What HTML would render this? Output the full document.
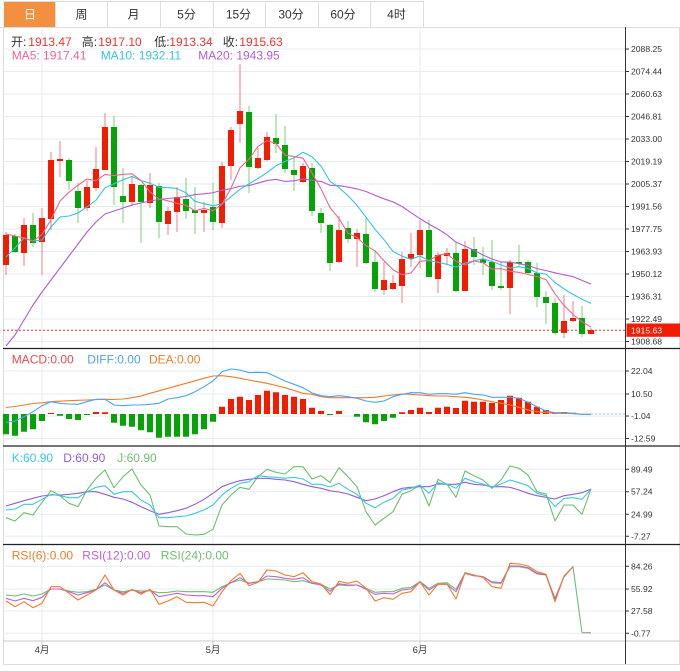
<!DOCTYPE html>
<html><head><meta charset="utf-8"><style>
html,body{margin:0;padding:0;background:#fff;}
svg{display:block;}
text{font-family:"Liberation Sans","Noto Sans CJK SC",sans-serif;}
.ax{font-size:8.6px;fill:#333;}
.lg{font-size:12px;}
</style></head><body>
<svg width="680" height="671" viewBox="0 0 680 671" xmlns="http://www.w3.org/2000/svg">
<rect x="0" y="0" width="680" height="671" fill="#fff"/>
<!-- tabs -->
<rect x="4" y="1" width="51" height="26" fill="#f29040"/>
<path d="M4 1.5H423.5M0 27.5H680M55.5 1V27M107.5 1V27M160.5 1V27M213.5 1V27M265.5 1V27M318.5 1V27M370.5 1V27M423.5 1V27" stroke="#dcdcdc" stroke-width="1" fill="none"/>
<g font-size="12" text-anchor="middle" fill="#333">
<text x="30" y="18.5" fill="#fff">日</text>
<text x="81.5" y="18.5">周</text>
<text x="133.5" y="18.5">月</text>
<text x="186.5" y="18.5">5分</text>
<text x="238.5" y="18.5">15分</text>
<text x="291" y="18.5">30分</text>
<text x="343" y="18.5">60分</text>
<text x="396.5" y="18.5">4时</text>
</g>
<!-- borders -->
<path d="M3.5 27V664.5H680M679.5 27V664.5" stroke="#dcdcdc" fill="none"/>
<!-- gridlines main -->
<g stroke="#e6edf2" stroke-width="1">
<path d="M3 49H625M3 71.5H625M3 94H625M3 116.5H625M3 139H625M3 161.5H625M3 184H625M3 206.5H625M3 229H625M3 251.5H625M3 274H625M3 296.5H625M3 319H625M3 341.5H625"/>
<path d="M3 371H625M3 394H625M3 416H625M3 438.5H625"/>
<path d="M3 469.3H625M3 491.7H625M3 514.3H625M3 536.3H625"/>
<path d="M3 566.3H625M3 589H625M3 611H625M3 633.3H625"/>
<path d="M42 27V641M213 27V641M420 27V641"/>
</g>
<!-- panel separators -->
<path d="M3 348.5H680M3 446H680M3 544.5H680" stroke="#222" stroke-width="1.3"/>
<path d="M3 641H680" stroke="#c8c8c8"/>
<path d="M42 641V645M213 641V645M420 641V645" stroke="#c8c8c8"/>
<!-- axis -->
<path d="M625.5 27V664" stroke="#333"/>
<g stroke="#333">
<path d="M625 49H629M625 71.5H629M625 94H629M625 116.5H629M625 139H629M625 161.5H629M625 184H629M625 206.5H629M625 229H629M625 251.5H629M625 274H629M625 296.5H629M625 319H629M625 341.5H629"/>
<path d="M625 371H629M625 394H629M625 416H629M625 438.5H629M625 469.3H629M625 491.7H629M625 514.3H629M625 536.3H629M625 566.3H629M625 589H629M625 611H629M625 633.3H629"/>
</g>
<g class="ax">
<text x="631" y="52">2088.25</text>
<text x="631" y="74.5">2074.44</text>
<text x="631" y="97">2060.63</text>
<text x="631" y="119.5">2046.81</text>
<text x="631" y="142">2033.00</text>
<text x="631" y="164.5">2019.19</text>
<text x="631" y="187">2005.37</text>
<text x="631" y="209.5">1991.56</text>
<text x="631" y="232">1977.75</text>
<text x="631" y="254.5">1963.93</text>
<text x="631" y="277">1950.12</text>
<text x="631" y="299.5">1936.31</text>
<text x="631" y="322">1922.49</text>
<text x="631" y="344.5">1908.68</text>
<text x="631" y="374">22.04</text>
<text x="631" y="397">10.50</text>
<text x="631" y="419">-1.04</text>
<text x="631" y="441.5">-12.59</text>
<text x="631" y="472.3">89.49</text>
<text x="631" y="494.7">57.24</text>
<text x="631" y="517.3">24.99</text>
<text x="631" y="539.3">-7.27</text>
<text x="631" y="569.3">84.26</text>
<text x="631" y="592">55.92</text>
<text x="631" y="614">27.58</text>
<text x="631" y="636.3">-0.77</text>
</g>
<!-- current price -->
<path d="M3 330.3H625" stroke="#f03030" stroke-dasharray="2,2"/>
<rect x="626.5" y="323.5" width="53.5" height="13.3" fill="#f21c00"/>
<text x="631" y="333.5" class="ax" style="fill:#fff">1915.63</text>
<!-- candles wicks -->
<path fill="none" stroke="#f47e7e" stroke-width="1" d="M6 232V275M24 218V266M42 208V275M51 152V230M60 141V177M87 181V211M96 147V191M105 113V170M132 177V206M150 173V208M168 207V235M177 187V232M204 202V232M222 162V228M231 127V180M240 64V143M258 148V169M267 132V161M303 163V183M339 216V263M357 229V267M384 262V295M393 275V290M402 252V303M411 233V267M420 220V268M438 252V293M447 248V265M465 241V291M510 260V314M564 295V338M573 301V322M591 328V334"/>
<path fill="none" stroke="#7ccf7c" stroke-width="1" d="M15 234V253M33 213V247M69 158V190M78 183V223M114 116V205M123 168V223M141 184V243M159 183V238M186 178V219M195 187V234M213 183V230M249 106V193M276 114V153M285 126V173M294 156V191M312 163V216M321 208V233M330 224V271M348 221V243M366 217V264M375 250V292M429 220V277M456 242V292M474 237V265M483 247V275M492 240V290M501 262V290M519 245V267M528 260V275M537 263V307M546 291V324M555 298V335M582 306V337"/>
<path fill="#f31c00" d="M3 235h6v30h-6zM21 225h6v28h-6zM39 218h6v24h-6zM48 160h6v59h-6zM57 159h6v2h-6zM84 187h6v21h-6zM93 169h6v19h-6zM102 127h6v43h-6zM129 184h6v18h-6zM147 185h6v18h-6zM165 211h6v13h-6zM174 197h6v15h-6zM201 210h6v3h-6zM219 166h6v57h-6zM228 130h6v36h-6zM237 111h6v13h-6zM255 158h6v10h-6zM264 137h6v23h-6zM300 166h6v16h-6zM336 230h6v32h-6zM354 233h6v6h-6zM381 280h6v10h-6zM390 283h6v6h-6zM399 259h6v27h-6zM408 254h6v5h-6zM417 230h6v25h-6zM435 255h6v24h-6zM444 253h6v3h-6zM462 249h6v42h-6zM507 262h6v26h-6zM561 321h6v12h-6zM570 318h6v3h-6zM588 330h6v4h-6z"/>
<path fill="#06a306" d="M12 236h6v16h-6zM30 225h6v18h-6zM66 160h6v21h-6zM75 191h6v17h-6zM111 127h6v60h-6zM120 196h6v6h-6zM138 185h6v17h-6zM156 186h6v36h-6zM183 199h6v12h-6zM192 210h6v3h-6zM210 207h6v15h-6zM246 112h6v55h-6zM273 138h6v6h-6zM282 145h6v24h-6zM291 170h6v5h-6zM309 168h6v43h-6zM318 213h6v10h-6zM327 225h6v38h-6zM345 228h6v11h-6zM363 234h6v29h-6zM372 262h6v27h-6zM426 230h6v47h-6zM453 253h6v38h-6zM471 249h6v8h-6zM480 259h6v4h-6zM489 262h6v24h-6zM498 286h6v2h-6zM516 262h6v1.5h-6zM525 262h6v11h-6zM534 273h6v24h-6zM543 297h6v6h-6zM552 303h6v30h-6zM579 318h6v16h-6z"/>
<!-- MA lines -->
<g fill="none" stroke-width="1.1" stroke-linejoin="round">
<polyline stroke="#b45cd0" points="6,346 15,335 24,320 33,305 42,292 51,280 60,268 69,256 78,244 87,232 96,222 105,214 114,211 123,208 132,205 141,203 150,201 159,199.5 168,198.5 177,197.7 186,196.5 195,194.55 204,193.8 213,192.75 222,190.15 231,188.65 240,186.25 249,185.55 258,183.05 267,180.55 276,179.3 285,181.4 294,180.8 303,179 312,180.35 321,181.4 330,185.3 339,185.7 348,187.1 357,188.9 366,191.5 375,195.3 384,198.8 393,201.85 402,206.5 411,212.7 420,218.65 429,224.15 438,229 447,234.8 456,242.15 465,246.15 474,250.25 483,255.1 492,258.85 501,262.1 510,262.05 519,263.7 528,265.4 537,268.6 546,270.6 555,272.8 564,274.85 573,276.6 582,280.35 591,284.15"/>
<polyline stroke="#35c3e3" points="6,257 15,248 24,238 33,241 42,240 51,227 60,217 69,216 78,213 87,206.8 96,200.2 105,187.7 114,183.9 123,179.8 132,176.4 141,180.6 150,183.2 159,187.3 168,187.6 177,188.6 186,192.8 195,201.4 204,203.7 213,205.7 222,203.9 231,196.7 240,189.3 249,183.8 258,178.5 267,172.5 276,165.8 285,161.4 294,157.9 303,152.3 312,156.8 321,166.1 330,181.3 339,187.6 348,195.7 357,205.3 366,217.2 375,229.2 384,239.7 393,251.4 402,256.2 411,259.3 420,256 429,260.7 438,262.3 447,264.3 456,267.1 465,263.1 474,260.8 483,258.8 492,261.5 501,264.9 510,268.1 519,266.7 528,268.5 537,272.9 546,274.1 555,282.5 564,288.9 573,294.4 582,299.2 591,303.4"/>
<polyline stroke="#f0648f" points="6,234 15,236 24,238 33,241 42,234.6 51,219.6 60,201 69,192.2 78,185.2 87,179 96,180.8 105,174.4 114,175.6 123,174.4 132,173.8 141,180.4 150,192 159,199 168,200.8 177,203.4 186,205.2 195,210.8 204,208.4 213,210.6 222,204.4 231,188.2 240,167.8 249,159.2 258,146.4 267,140.6 276,143.4 285,155 294,156.6 303,158.2 312,173 321,188.8 330,207.6 339,218.6 348,233.2 357,237.6 366,245.6 375,250.8 384,260.8 393,269.6 402,274.8 411,273 420,261.2 429,260.6 438,255 447,253.8 456,261.2 465,265 474,261 483,262.6 492,269.2 501,268.6 510,271.2 519,272.4 528,274.4 537,276.6 546,279.6 555,293.8 564,305.4 573,314.4 582,321.8 591,327.2"/>
</g>
<!-- legends -->
<g class="lg">
<text x="11" y="46" fill="#333">开:</text><text x="28.3" y="46" fill="#f0342c">1913.47</text>
<text x="81.7" y="46" fill="#333">高:</text><text x="98.3" y="46" fill="#f0342c">1917.10</text>
<text x="154.3" y="46" fill="#333">低:</text><text x="169.3" y="46" fill="#f0342c">1913.34</text>
<text x="222.7" y="46" fill="#333">收:</text><text x="239.3" y="46" fill="#f0342c">1915.63</text>
<text x="11.7" y="59.5" fill="#f0648f">MA5: 1917.41</text>
<text x="100.7" y="59.5" fill="#35c3e3">MA10: 1932.11</text>
<text x="198.3" y="59.5" fill="#b45cd0">MA20: 1943.95</text>
<text x="11.7" y="363.5" fill="#f04a4a">MACD:0.00</text>
<text x="87.3" y="363.5" fill="#4da3f0">DIFF:0.00</text>
<text x="149" y="363.5" fill="#f07c28">DEA:0.00</text>
<text x="11.7" y="462" fill="#3cc8e0">K:60.90</text>
<text x="63.3" y="462" fill="#9060d8">D:60.90</text>
<text x="117.3" y="462" fill="#6cc06c">J:60.90</text>
<text x="11.7" y="559.3" fill="#f07c28">RSI(6):0.00</text>
<text x="82.3" y="559.3" fill="#c060d8">RSI(12):0.00</text>
<text x="160.7" y="559.3" fill="#6cc06c">RSI(24):0.00</text>
</g>
<!-- MACD -->
<path d="M591 414H625" stroke="#8cc8f0" stroke-dasharray="2,2"/>
<path fill="#06a306" d="M3 414h6v20.3h-6zM12 414h6v21.7h-6zM21 414h6v17.7h-6zM30 414h6v15.3h-6zM39 414h6v7h-6zM57 414h6v1.7h-6zM66 414h6v5h-6zM75 414h6v6h-6zM84 414h6v1h-6zM111 414h6v8.7h-6zM120 414h6v11.7h-6zM129 414h6v12.7h-6zM138 414h6v16.3h-6zM147 414h6v18.3h-6zM156 414h6v23.7h-6zM165 414h6v22.7h-6zM174 414h6v22.7h-6zM183 414h6v22.7h-6zM192 414h6v20.3h-6zM201 414h6v15.3h-6zM210 414h6v7.7h-6zM327 414h6v1h-6zM354 414h6v2.7h-6zM363 414h6v8.3h-6zM372 414h6v10.3h-6zM381 414h6v7h-6zM390 414h6v3.7h-6z"/>
<path fill="#f31c00" d="M48 413h6v1h-6zM93 412h6v2h-6zM102 412.3h6v1.7h-6zM219 406.7h6v7.3h-6zM228 399h6v15h-6zM237 396.7h6v17.3h-6zM246 400h6v14h-6zM255 395h6v19h-6zM264 390.7h6v23.3h-6zM273 392.3h6v21.7h-6zM282 395h6v19h-6zM291 396.7h6v17.3h-6zM300 399h6v15h-6zM309 407.7h6v6.3h-6zM318 411h6v3h-6zM336 411h6v3h-6zM399 412.3h6v1.7h-6zM408 410h6v4h-6zM417 407.7h6v6.3h-6zM426 412h6v2h-6zM435 407.7h6v6.3h-6zM444 406.7h6v7.3h-6zM453 408h6v6h-6zM462 400.7h6v13.3h-6zM471 401.7h6v12.3h-6zM480 401.7h6v12.3h-6zM489 403h6v11h-6zM498 400h6v14h-6zM507 395.7h6v18.3h-6zM516 397.7h6v16.3h-6zM525 401.7h6v12.3h-6zM534 406.7h6v7.3h-6zM543 410h6v4h-6zM552 413h6v1h-6zM561 412h6v2h-6zM570 412.7h6v1.3h-6z"/>
<g fill="none" stroke-width="1.1" stroke-linejoin="round">
<polyline stroke="#f07c28" points="6,407.5 15,406.5 24,405 33,403.5 42,402.8 51,401.7 60,401.2 69,400.7 78,400.3 87,400 96,399.6 105,399.3 114,399.5 123,399 132,397.7 141,396 150,393.3 159,390.8 168,388.3 177,385.8 186,383.3 195,380.8 204,378.3 213,376 222,375.7 231,376.7 240,378.3 249,380 258,381.7 267,383.3 276,385.5 285,387.7 294,390.5 303,393.3 312,394.3 321,396.7 330,397.7 339,397.7 348,397.7 357,397.7 366,397.7 375,397.3 384,396 393,395 402,394 411,394.3 420,395 429,395.7 438,396 447,396 456,396.7 465,397.3 474,398.3 483,400 492,401.7 501,403.3 510,405 519,407.3 528,410 537,411.7 546,412.7 555,413.3 564,413.3 573,413.7 582,414.3 591,414.3"/>
<polyline stroke="#4da3f0" points="6,422.3 15,421 24,416.7 33,411.7 42,405.7 51,401.7 60,403.3 69,404 78,404.3 87,401.7 96,399.3 105,399.3 114,405 123,405.7 132,405 141,405 150,404.3 159,403.3 168,399 177,397.7 186,395.7 195,391.7 204,386.7 213,381 222,371.7 231,369 240,370 249,372.7 258,372.3 267,372.7 276,376.7 285,381 294,384.3 303,387.7 312,393 321,395.7 330,396.7 339,395.7 348,396.7 357,398.3 366,401 375,402.3 384,401 393,396.7 402,394.3 411,392.7 420,392.7 429,394.3 438,393.7 447,393.7 456,394.3 465,392.7 474,394.3 483,395 492,397.3 501,397.3 510,397.3 519,398.3 528,402.3 537,406.7 546,411 555,412.7 564,412.7 573,413.3 582,414.3 591,414.3"/>
</g>
<!-- KDJ -->
<g fill="none" stroke-width="1.1" stroke-linejoin="round">
<polyline stroke="#6cc06c" points="6,517.7 15,521 24,512.7 33,515 42,502.3 51,490.7 60,495.7 69,503.3 78,506.7 87,490 96,478.3 105,470 114,487.7 123,476.7 132,469 141,485 150,495 159,526 168,526.7 177,526.7 186,534 195,535 204,534.3 213,529.3 222,505 231,495 240,487.3 249,489.3 258,476.7 267,469.3 276,472.3 285,474 294,466.7 303,466.7 312,479 321,475.7 330,482.5 339,467.7 348,476.7 357,486.7 366,511.7 375,525 384,518.3 393,511.7 402,494.3 411,490.7 420,485 429,506 438,479.3 447,484.3 456,497.3 465,471 474,475.7 483,480 492,488.3 501,480 510,466 519,468.3 528,475 537,491.7 546,494 555,521 564,505 573,505 582,514.3 591,489"/>
<polyline stroke="#9060d8" points="6,506 15,503.3 24,500.7 33,498.3 42,496 51,495 60,495 69,494.3 78,493.3 87,491.7 96,491.7 105,494.3 114,497.3 123,499 132,502.3 141,506.7 150,510.7 159,514.3 168,512.7 177,510.7 186,508.3 195,504.3 204,499.3 213,493.3 222,486.7 231,483.3 240,480.7 249,479.3 258,478.3 267,478.3 276,479.3 285,480 294,481.7 303,484.3 312,486.7 321,488.3 330,490.8 339,492 348,494 357,497.3 366,500.7 375,499 384,495.7 393,491.7 402,488.3 411,487.3 420,486.7 429,486.7 438,484 447,484.3 456,484.3 465,482.3 474,484.3 483,485 492,486.7 501,486.7 510,487.3 519,490 528,493.3 537,495.7 546,497.3 555,499 564,495.7 573,494.3 582,492.7 591,489"/>
<polyline stroke="#3cc8e0" points="6,510 15,509 24,504.3 33,504.3 42,499.3 51,494.3 60,495.7 69,497.7 78,497.7 87,491.7 96,487.3 105,485.7 114,494.3 123,491.7 132,491.7 141,500 150,505 159,517.7 168,517.7 177,516.7 186,516 195,513.3 204,510 213,505 222,495 231,488.3 240,483.3 249,481.7 258,475.7 267,476.7 276,477.3 285,478.3 294,477.3 303,479 312,484.3 321,484.3 330,487 339,483.3 348,489.3 357,494.3 366,503.3 375,507.7 384,502.3 393,498.3 402,490 411,488.3 420,485 429,493.3 438,482.7 447,484.3 456,488.3 465,478.3 474,481.7 483,484 492,487.3 501,484 510,480 519,482.7 528,485.7 537,493.3 546,495.7 555,506.7 564,498.3 573,497.7 582,499.3 591,489"/>
</g>
<!-- RSI -->
<g fill="none" stroke-width="1.1" stroke-linejoin="round">
<polyline stroke="#6cc06c" points="6,595 15,596 24,594 33,596 42,594 51,589 60,589 69,591 78,592.3 87,591.7 96,589.3 105,585 114,590 123,591.7 132,590 141,591 150,590.7 159,592.7 168,592.3 177,591 186,591.7 195,591.7 204,591.7 213,592.3 222,586.7 231,582.7 240,580 249,583.3 258,581.7 267,579 276,579.3 285,580 294,581.7 303,580.7 312,583.3 321,584.3 330,589 339,585 348,585.7 357,585 366,588.3 375,592.3 384,591.7 393,591.7 402,588.3 411,587.3 420,581.7 429,588.3 438,583.3 447,582.7 456,589.3 465,573.3 474,575.7 483,576.7 492,581.7 501,582.7 510,566.7 519,566.7 528,568.3 537,574 546,575 555,598.3 564,576.7 573,566.7 582,632.7"/>
<polyline stroke="#c060d8" points="6,598.3 15,601 24,598.3 33,600.7 42,597.3 51,589 60,589 69,591.7 78,595 87,592.7 96,590 105,582.7 114,590 123,593.3 132,590 141,592.7 150,590 159,596.7 168,595 177,593.3 186,595 195,595.7 204,595.7 213,596.7 222,588.3 231,582.7 240,577.7 249,583.3 258,581.7 267,576 276,576.7 285,578.3 294,579.3 303,577.7 312,583.3 321,585 330,591.3 339,583.8 348,585 357,585 366,589.3 375,594.3 384,593.3 393,594 402,590 411,589 420,581.7 429,590 438,584.3 447,584.3 456,591.7 465,573.3 474,575.7 483,576.7 492,582.7 501,583.3 510,566 519,566 528,567.7 537,573.3 546,575 555,599.3 564,576.7 573,566.7"/>
<polyline stroke="#f07c28" points="6,601 15,606.7 24,601.7 33,607.7 42,603.3 51,586.7 60,586.7 69,593.3 78,600 87,595 96,590 105,575 114,590 123,595 132,589.3 141,594.3 150,589.3 159,604.3 168,601 177,596.7 186,602.3 195,602.7 204,602.3 213,606 222,591.7 231,580.7 240,573.3 249,585.7 258,582.3 267,570 276,571 285,575 294,576.7 303,572.7 312,581.7 321,584 330,594.5 339,581.3 348,583.3 357,581 366,588.3 375,601 384,597.7 393,599.3 402,593.3 411,591.7 420,581.7 429,595 438,584.3 447,584 456,599 465,572.7 474,575 483,577.3 492,586.7 501,588.3 510,563.3 519,564 528,566 537,571.7 546,574.3 555,601.7 564,576 573,566.7"/>
<path d="M582 632.7H591" stroke="#aaa" stroke-width="1.5"/>
</g>
<!-- month labels -->
<g font-size="9.5" fill="#333" text-anchor="middle">
<text x="42" y="653">4月</text>
<text x="213" y="653">5月</text>
<text x="420" y="653">6月</text>
</g>
</svg>
</body></html>
